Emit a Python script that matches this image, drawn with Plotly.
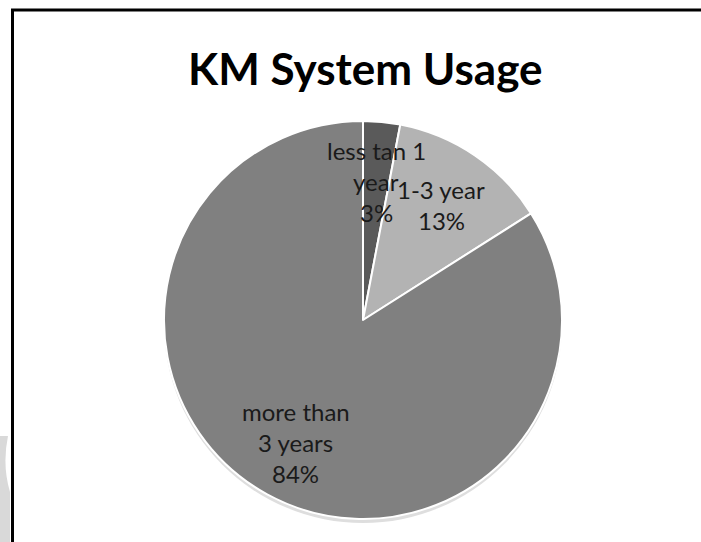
import math
import plotly.graph_objects as go

# Data
categories = ["less tan 1 year", "1-3 year", "more than 3 years"]
label_lines = [["less tan 1", "year"], ["1-3 year"], ["more than", "3 years"]]
shares = [3, 13, 84]
colors = ["#5a5a5a", "#b3b3b3", "#808080"]

W, H = 701, 542
CX, CY, R = 363, 320, 199  # pie centre and radius in pixels
LINE_H = 31                # label line spacing in pixels


def px(x):
    return x / W


def py(y):
    return 1 - y / H


def pie_domain(dy=0):
    return dict(x=[px(CX - R), px(CX + R)], y=[py(CY + R + dy), py(CY - R + dy)])


fig = go.Figure()

# soft drop shadow under the pie
fig.add_trace(
    go.Pie(
        values=[1], labels=["shadow"], sort=False,
        marker=dict(colors=["#dedede"], line=dict(width=0)),
        textinfo="none", hoverinfo="skip", showlegend=False,
        domain=pie_domain(dy=4),
    )
)

fig.add_trace(
    go.Pie(
        labels=categories,
        values=shares,
        sort=False,
        direction="clockwise",
        rotation=0,
        marker=dict(colors=colors, line=dict(color="white", width=2)),
        textinfo="none",
        hoverinfo="label+percent",
        showlegend=False,
        domain=pie_domain(),
    )
)

# Data labels placed at the middle angle of each slice
total = sum(shares)
annotations = []
start = 0.0
for lines, v in zip(label_lines, shares):
    mid = (start + v / 2) / total * 2 * math.pi
    start += v
    rr = 0.70 * R
    lx = CX + rr * math.sin(mid)
    ly = CY - rr * math.cos(mid)
    pct = round(v / total * 100)
    rows = lines + [f"{pct}%"]
    top = ly - (len(rows) - 1) * LINE_H / 2
    for i, row in enumerate(rows):
        annotations.append(
            dict(
                x=px(lx), y=py(top + i * LINE_H), xref="paper", yref="paper",
                text=row, showarrow=False,
                font=dict(family="Lato", size=24, color="#1a1a1a"),
                xanchor="center", yanchor="middle",
            )
        )

annotations.append(
    dict(
        x=px(365), y=py(68), xref="paper", yref="paper",
        text="<b>KM System Usage</b>", showarrow=False,
        font=dict(family="Lato", size=44, color="#000000"),
        xanchor="center", yanchor="middle",
    )
)

shapes = [
    # chart frame (left and top edges)
    dict(type="line", xref="paper", yref="paper",
         x0=px(12.5), y0=py(10), x1=px(12.5), y1=py(560),
         line=dict(color="black", width=3)),
    dict(type="line", xref="paper", yref="paper",
         x0=px(11), y0=py(10), x1=px(720), y1=py(10),
         line=dict(color="black", width=3)),
    # light grey sliver along the left edge
    dict(type="path", xref="paper", yref="paper",
         path=(f"M {px(0)},{py(436)} L {px(8)},{py(436)} "
               f"Q {px(2)},{py(465)} {px(10)},{py(492)} "
               f"L {px(10)},{py(542)} L {px(0)},{py(542)} Z"),
         fillcolor="#d9d9d9", line=dict(width=0), layer="below"),
]

fig.update_layout(
    width=W, height=H,
    margin=dict(l=0, r=0, t=0, b=0),
    paper_bgcolor="white",
    plot_bgcolor="white",
    annotations=annotations,
    shapes=shapes,
)

fig.write_html("out.html")
